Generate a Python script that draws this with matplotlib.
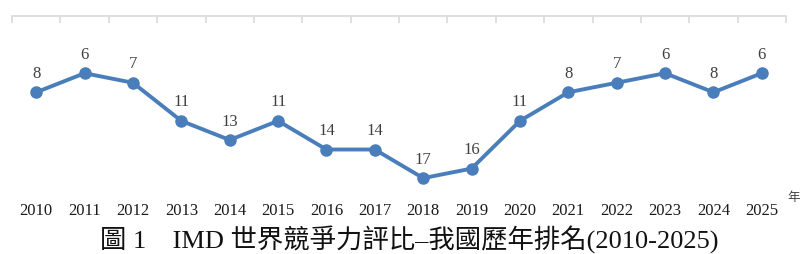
import numpy as np
import matplotlib.pyplot as plt

plt.rcParams['font.family'] = ['Liberation Serif', 'Noto Sans CJK TC']

years = ['2010', '2011', '2012', '2013', '2014', '2015', '2016', '2017',
         '2018', '2019', '2020', '2021', '2022', '2023', '2024', '2025']
ranks = [8, 6, 7, 11, 13, 11, 14, 14, 17, 16, 11, 8, 7, 6, 8, 6]

fig = plt.figure(figsize=(8, 2.54), dpi=100)
ax = fig.add_axes([0.015, 1 - 201 / 254, 0.9675, (201 - 16) / 254])

x = np.arange(len(years))
ax.plot(x, ranks, color='#4A7EBB', lw=2.8, marker='o', ms=8, solid_capstyle='round')

for xi, r in zip(x, ranks):
    ax.annotate(str(r), (xi, r), xytext=(0, 7.5), textcoords='offset points',
                ha='center', va='bottom', fontsize=12, color='#404040')

ax.set_xlim(-0.5, len(years) - 0.5)
ax.set_ylim(19.4, 0)

for s in ['left', 'right', 'bottom']:
    ax.spines[s].set_visible(False)
ax.spines['top'].set_color('#D9D9D9')
ax.spines['top'].set_linewidth(1.2)

ax.set_xticks(x)
ax.set_xticklabels(years, fontsize=12, color='#1a1a1a')
ax.set_xticks(np.arange(len(years) + 1) - 0.5, minor=True)
ax.tick_params(axis='x', which='major', length=0, pad=1.5, bottom=True, top=False)
ax.tick_params(axis='x', which='minor', top=True, bottom=False, direction='in',
               length=5, color='#D9D9D9', width=1.2)
ax.set_yticks([])

fig.text(0.984, 1 - 198 / 254, '年', fontsize=9, color='#404040',
         ha='left', va='center')
fig.text(0.511, 1 - 240 / 254, '圖 1　IMD 世界競爭力評比–我國歷年排名(2010-2025)',
         fontsize=19, ha='center', va='center', color='#111111')

fig.savefig('out.png', dpi=100)
